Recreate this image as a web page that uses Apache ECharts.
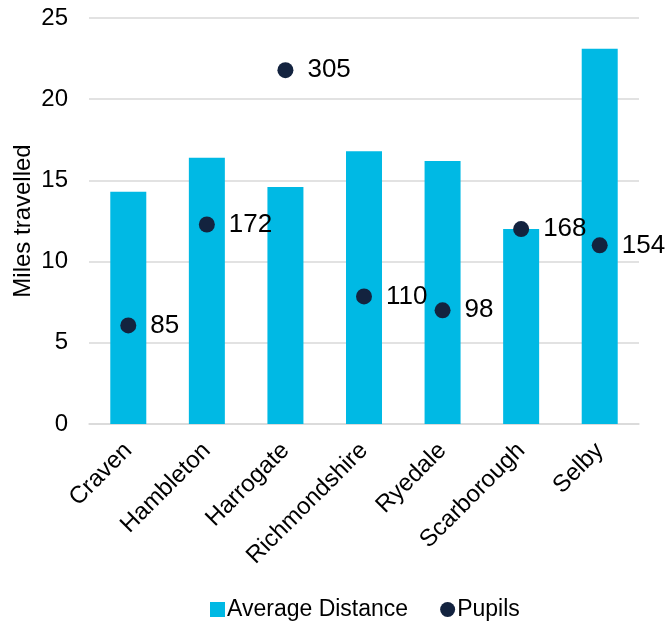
<!DOCTYPE html>
<html>
<head>
<meta charset="utf-8">
<script src="https://cdn.jsdelivr.net/npm/echarts@6/dist/echarts.min.js"></script>
<style>
  html, body { margin: 0; padding: 0; background: #fff; }
  #chart { width: 667px; height: 622px; }
</style>
</head>
<body>
<div id="chart"></div>
<script>
// Districts along the x axis
const districts = ['Craven', 'Hambleton', 'Harrogate', 'Richmondshire', 'Ryedale', 'Scarborough', 'Selby'];
// Average distance travelled (miles) – bars, left axis
const avgDistance = [14.3, 16.4, 14.6, 16.8, 16.2, 12.0, 23.1];
// Number of pupils – dots, hidden secondary axis
const pupils = [85, 172, 305, 110, 98, 168, 154];
// Left axis ticks
const distanceTicks = { min: 0, max: 25, interval: 5 };
const pupilScale = { min: 0, max: 350 };

const FONT = '"Liberation Sans", Arial, sans-serif';
const chart = echarts.init(document.getElementById('chart'), null, { renderer: 'canvas' });

chart.setOption({
  animation: false,
  backgroundColor: '#ffffff',
  textStyle: { fontFamily: FONT, color: '#000' },
  grid: { left: 89, right: 28, top: 18, bottom: 198, containLabel: false },
  legend: {
    left: 205,
    top: 593,
    itemGap: 32,
    itemWidth: 15,
    itemHeight: 15,
    textStyle: { fontFamily: FONT, fontSize: 23, color: '#000', padding: [0, 0, 0, -3] },
    data: [
      { name: 'Average Distance', icon: 'rect' },
      { name: 'Pupils', icon: 'circle' }
    ]
  },
  xAxis: {
    type: 'category',
    data: districts,
    axisTick: { show: false },
    axisLine: { lineStyle: { color: '#d9d9d9', width: 1.5 } },
    axisLabel: {
      rotate: 45,
      interval: 0,
      margin: 23,
      fontFamily: FONT,
      fontSize: 24,
      color: '#000'
    }
  },
  yAxis: [
    {
      type: 'value',
      min: distanceTicks.min,
      max: distanceTicks.max,
      interval: distanceTicks.interval,
      name: 'Miles travelled',
      nameLocation: 'middle',
      nameGap: 54,
      nameMoveOverlap: false,
      nameTextStyle: { fontFamily: FONT, fontSize: 24, color: '#000' },
      axisLine: { show: false },
      axisTick: { show: false },
      axisLabel: { fontFamily: FONT, fontSize: 24, color: '#000', margin: 21 },
      splitLine: { lineStyle: { color: '#d9d9d9', width: 1.5 } }
    },
    {
      type: 'value',
      min: pupilScale.min,
      max: pupilScale.max,
      show: false,
      splitLine: { show: false }
    }
  ],
  series: [
    {
      name: 'Average Distance',
      type: 'bar',
      data: avgDistance,
      yAxisIndex: 0,
      barWidth: 36,
      itemStyle: { color: '#00b9e4' }
    },
    {
      name: 'Pupils',
      type: 'scatter',
      data: pupils,
      yAxisIndex: 1,
      symbol: 'circle',
      symbolSize: 16,
      itemStyle: { color: '#13233f', opacity: 1 },
      label: {
        show: true,
        position: 'right',
        distance: 14,
        fontFamily: FONT,
        fontSize: 26,
        color: '#000'
      }
    }
  ]
});
</script>
</body>
</html>
